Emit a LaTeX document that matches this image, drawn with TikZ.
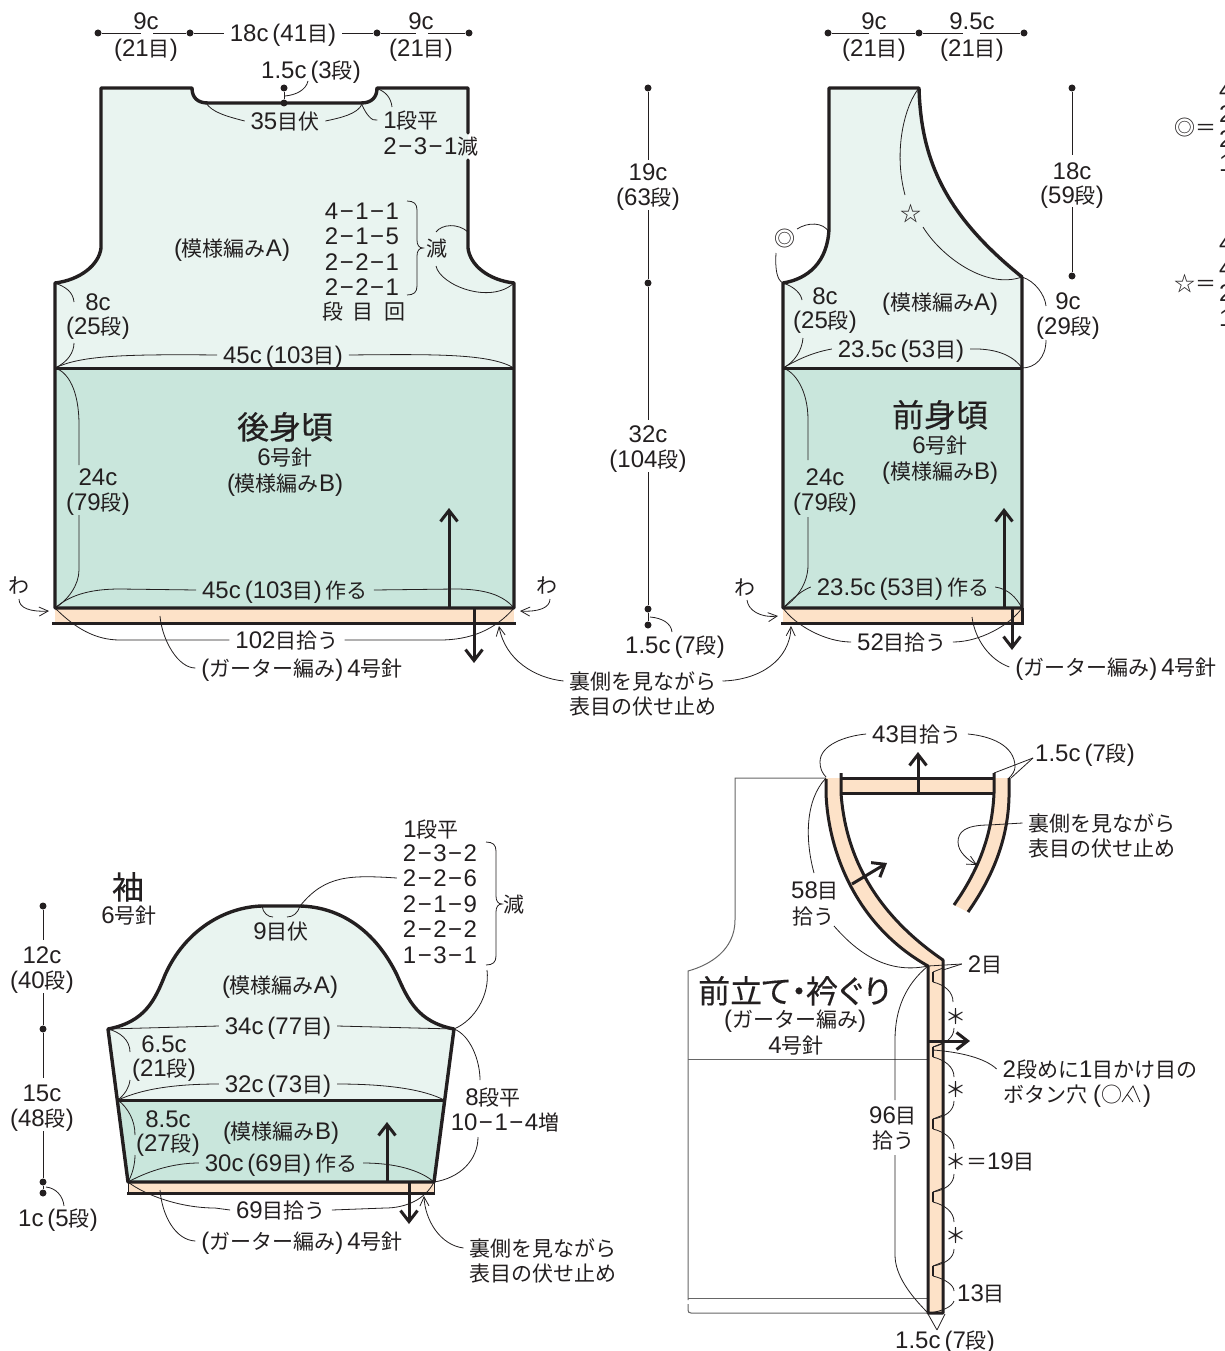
\documentclass[tikz,border=0pt]{standalone}
\usepackage{fontspec}
\setmainfont{Liberation Sans}
\usetikzlibrary{arrows.meta}
\newfontfamily\jpr{Noto Sans CJK JP}[Scale=0.875]
\newfontfamily\jpb{Noto Sans CJK JP}[Scale=0.875,FakeBold=0.4]
\let\cjkcur\jpr
\XeTeXinterchartokenstate=1
\newXeTeXintercharclass\cjkclass
\newcount\cc
\newcommand{\setcjkrange}[2]{\cc=#1 \loop \XeTeXcharclass\cc=\cjkclass \ifnum\cc<#2 \advance\cc 1 \repeat}
\setcjkrange{"3000}{"30FF}
\setcjkrange{"4E00}{"9FFF}
\setcjkrange{"FF00}{"FFEF}
\setcjkrange{"25A0}{"26FF}
\XeTeXinterchartoks 0 \cjkclass={\begingroup\cjkcur}
\XeTeXinterchartoks \cjkclass 0 ={\endgroup}
\XeTeXinterchartoks 4095 \cjkclass={\begingroup\cjkcur}
\XeTeXinterchartoks \cjkclass 4095 ={\endgroup}
\newcommand\mn{\kern1.5pt−\kern1.5pt}
\newcommand\labfont{\fontsize{24}{26}\selectfont\setlength\spaceskip{4pt}}
\newcommand\titlefont{\fontsize{36.5}{38}\selectfont\let\cjkcur\jpb}
\newcommand\asterfont{\fontsize{24}{26}\selectfont}
\definecolor{ink}{HTML}{231F20}
\definecolor{knita}{HTML}{E9F4F0}
\definecolor{knitb}{HTML}{C9E6DC}
\definecolor{peach}{HTML}{FDE2C8}
\definecolor{ghost}{HTML}{666666}
\tikzset{
  lab/.style={inner xsep=6pt,inner ysep=1pt,outer sep=0pt,text=ink,font=\labfont,text height=20pt,text depth=3pt,anchor=center},
  lableft/.style={lab,anchor=west},
  title/.style={lab,font=\titlefont,text height=28pt,text depth=4pt},
  aster/.style={lab,font=\asterfont,text height=17pt,text depth=1pt,inner xsep=0pt},
  thick line/.style={draw=ink,line width=3.4pt,line cap=round,line join=round},
  mid line/.style={draw=ink,line width=3pt,line cap=butt,line join=round},
  lead/.style={draw=ink,line width=0.8pt},
  leadarrow/.style={lead,-{Straight Barb[length=9pt,width=9pt,line width=0.8pt]}},
  dimline/.style={draw=ink,line width=0.9pt},
  gridarrow/.style={draw=ink,line width=3pt,-{Straight Barb[length=11pt,width=17pt,line width=3pt]}},
  ghostline/.style={draw=ghost,line width=1pt},
  dimdot/.style={circle,fill=ink,inner sep=0pt,minimum size=7pt},
}
\newcommand{\mybrace}[4]{% x, top, mid, bottom
  \draw[lead] (#1,#2) .. controls ({#1+7},#2) and ({#1+10},{#2+3}) .. ({#1+10},{#2+9}) -- ({#1+10},{#3-8}) .. controls ({#1+10},{#3-3}) and ({#1+12},#3) .. ({#1+16},#3) .. controls ({#1+12},#3) and ({#1+10},{#3+3}) .. ({#1+10},{#3+8}) -- ({#1+10},{#4-9}) .. controls ({#1+10},{#4-3}) and ({#1+7},#4) .. (#1,#4);}
\newcommand{\buttonhole}[1]{%
  \draw[ink,line width=2pt] (933,{#1-5}) -- (933,{#1+5});
  \draw[lead] (943,{#1-9}) -- (933,{#1-5});}
\begin{document}
\begin{tikzpicture}[x=1pt,y=-1pt]
\useasboundingbox (0,0) rectangle (1224,1351);
\clip (0,0) rectangle (1224,1351);

% ---------- corners
\coordinate (bAL) at (55,283); \coordinate (bAR) at (514,283);
\coordinate (bML) at (55,368); \coordinate (bMR) at (514,368);
\coordinate (bBL) at (55,608); \coordinate (bBR) at (514,608);
\coordinate (fAL) at (783,283); \coordinate (fAR) at (1022,277);
\coordinate (fML) at (783,368); \coordinate (fMR) at (1022,368);
\coordinate (fBL) at (783,608); \coordinate (fBR) at (1022,608);
\coordinate (fNT) at (919,88);
\coordinate (sAL) at (108,1029); \coordinate (sAR) at (454,1029);
\coordinate (sML) at (118,1100); \coordinate (sMR) at (444,1100);
\coordinate (sBL) at (128,1182); \coordinate (sBR) at (434,1182);
\coordinate (sTL) at (262,906); \coordinate (sTR) at (300,906);
\coordinate (cNeck) at (928,966);

% ---------- back body
\fill[knita] (101,88) -- (192,88) .. controls (192,98) and (198,103) .. (208,103) -- (361,103) .. controls (372,103) and (377,97) .. (377,88) -- (468,88) -- (468,248) .. controls (470,265) and (488,280) .. (bAR) -- (bMR) -- (bML) -- (bAL) .. controls (80,280) and (99,265) .. (101,248) -- cycle;
\fill[knitb] (bML) rectangle (bBR);
\fill[peach] (bBL) rectangle (514,623);
\draw[thick line] (468,133) -- (468,88) -- (377,88) .. controls (377,97) and (372,103) .. (361,103) -- (208,103) .. controls (198,103) and (192,98) .. (192,88) -- (101,88) -- (101,248) .. controls (99,265) and (80,280) .. (bAL) -- (bBL) -- (bBR) -- (bAR) .. controls (488,280) and (470,265) .. (468,248) -- (468,160);
\draw[mid line] (bML) -- (bMR);
\draw[mid line] (52,623) -- (516,623);

% ---------- front body
\fill[knita] (829,88) -- (fNT) .. controls (921,160) and (945,215) .. (fAR) -- (fMR) -- (fML) -- (fAL) .. controls (808,279) and (828,262) .. (829,228) -- cycle;
\fill[knitb] (fML) rectangle (fBR);
\fill[peach] (fBL) rectangle (1022,623);
\draw[thick line] (fAR) .. controls (945,215) and (921,160) .. (fNT) -- (829,88) -- (829,228) .. controls (828,262) and (808,279) .. (fAL) -- (fBL) -- (fBR) -- (fAR);
\draw[mid line] (fML) -- (fMR);
\draw[mid line] (781,623) -- (1023.7,623);
\draw[mid line] (1022,608) -- (1022,623);

% ---------- sleeve
\fill[knita] (sAL) .. controls (145,1022) and (155,1000) .. (165,975) .. controls (185,930) and (225,907) .. (sTL) -- (sTR) .. controls (340,907) and (375,930) .. (397,975) .. controls (408,1000) and (418,1022) .. (sAR) -- (sMR) -- (sML) -- cycle;
\fill[knitb] (sML) -- (sMR) -- (sBR) -- (sBL) -- cycle;
\fill[peach] (sBL) rectangle (434,1193);
\draw[thick line] (sBL) -- (sAL) .. controls (145,1022) and (155,1000) .. (165,975) .. controls (185,930) and (225,907) .. (sTL) -- (sTR) .. controls (340,907) and (375,930) .. (397,975) .. controls (408,1000) and (418,1022) .. (sAR) -- (sBR) -- cycle;
\draw[mid line] (sML) -- (sMR);
\draw[mid line] (127,1193) -- (435,1193);
\draw[lead] (128,1182) -- (128,1193) (434,1182) -- (434,1193);

% ---------- front band (ghost garment first)
\draw[ghostline] (826,778) -- (735,778) -- (735,920) .. controls (735,950) and (710,965) .. (688,971) -- (688,1300);
\draw[ghostline] (688,1304) -- (688,1310) .. controls (688,1312) and (689,1313) .. (691,1313) -- (928,1313);
\draw[ghostline] (688,1059) -- (928,1059);
\draw[ghostline] (688,1298) -- (928,1298);
\fill[peach] (826,778) -- (826,793) .. controls (828,850) and (855,925) .. (cNeck) -- (928,1313) -- (943,1313) -- (943,960) .. controls (870,910) and (845,850) .. (841,793) -- (841,778) -- cycle;
\fill[peach] (841,778) rectangle (994,793);
\fill[peach] (994,778) -- (994,793) .. controls (992,840) and (975,875) .. (954,905) -- (968,912) .. controls (992,878) and (1008,840) .. (1009,797) -- (1009,778) -- cycle;
\draw[mid line] (826,779) -- (826,793) .. controls (828,850) and (855,925) .. (cNeck) -- (928,1313) -- (943,1313) -- (943,960) .. controls (870,910) and (845,850) .. (841,793) -- (841,773);
\draw[mid line] (841,778) -- (994,778) (841,793) -- (994,793);
\draw[mid line] (994,773) -- (994,793) .. controls (992,840) and (975,875) .. (954,905);
\draw[mid line] (1009,778) -- (1009,797) .. controls (1008,840) and (992,878) .. (968,912);
\foreach \y in {977,1052,1124,1197,1271}{\buttonhole{\y}}

% ---------- labels: back
\node[lab] (bw1) at (146,21) {9c};
\node[lab] (bw1s) at (146,48) {(21目)};
\node[lab] (bw2) at (283,33) {18c (41目)};
\node[lab] (bw3) at (421,21) {9c};
\node[lab] (bw3s) at (421,48) {(21目)};
\node[lab] (bnd) at (311,70) {1.5c (3段)};
\node[lab] (bn35) at (285,121) {35目伏};
\node[lab] (bn1) at (411,120) {1段平};
\node[lab] (bn2) at (431,146) {2\mn3\mn1減};
\node[lab] (bpa) at (232,248) {(模様編みA)};
\node[lab] (ba1) at (362,211) {4\mn1\mn1};
\node[lab] (ba2) at (362,236) {2\mn1\mn5};
\node[lab] (ba3) at (362,262) {2\mn2\mn1};
\node[lab] (ba4) at (362,287) {2\mn2\mn1};
\node[lab] (bh1) at (333,311) {段};
\node[lab] (bh2) at (363,311) {目};
\node[lab] (bh3) at (395,311) {回};
\node[lab] (bgen) at (437,248) {減};
\node[lab] (b8) at (98,302) {8c};
\node[lab] (b8s) at (98,326) {(25段)};
\node[lab] (b45) at (283,355) {45c (103目)};
\node[title] (btitle) at (285,427) {後身頃};
\node[lab] (bneedle) at (285,457) {6号針};
\node[lab] (bpb) at (285,483) {(模様編みB)};
\node[lab] (b24) at (98,477) {24c};
\node[lab] (b24s) at (98,502) {(79段)};
\node[lab] (b45m) at (285,590) {45c (103目) 作る};
\node[lab] (bw) at (19,585) {わ};
\node[lab] (bw9) at (547,585) {わ};
\node[lab] (b102) at (287,640) {102目拾う};
\node[lab] (bgar) at (302,668) {(ガーター編み) 4号針};
\node[lab] (ura1) at (643,681) {裏側を見ながら};
\node[lab] (ura2) at (643,706) {表目の伏せ止め};

% back dims
\node[dimdot] (d1) at (98,33) {}; \node[dimdot] (d2) at (190,33) {};
\node[dimdot] (d3) at (377,33) {}; \node[dimdot] (d4) at (469,33) {};
\draw[dimline] (d1) -- (141,33) (153,33) -- (d2) -- (bw2.west);
\draw[dimline] (bw2.east) -- (d3) -- (416,33) (428,33) -- (d4);
\node[dimdot] (n1) at (284,88) {}; \node[dimdot] (n2) at (284,103) {};
\draw[dimline] (n1) -- (n2);
\draw[lead] (285,96) .. controls (296,95) and (306,90) .. (308,81);
\draw[lead] (206,103) .. controls (212,112) and (225,116) .. (bn35.west);
\draw[lead] (bn35.east) .. controls (340,118) and (358,114) .. (362,104);
\draw[lead] (362,105) .. controls (366,114) and (372,122) .. (bn1.west);
\draw[lead] (378,89) .. controls (386,92) and (391,98) .. (392,107);
\mybrace{407}{201}{248}{295}
\draw[lead] (436,232) .. controls (442,224) and (458,223) .. (468,232);
\draw[lead] (436,266) .. controls (440,285) and (490,305) .. (bAR);
\draw[lead] (bAL) .. controls (66,287) and (73,292) .. (74,302);
\draw[lead] (74,343) .. controls (74,352) and (68,362) .. (bML);
\draw[lead] (bML) .. controls (80,356) and (120,354) .. (b45.west);
\draw[lead] (b45.east) .. controls (440,354) and (490,354) .. (bMR);
\draw[lead] (bML) .. controls (68,372) and (79,390) .. (79,425) -- (79,465);
\draw[lead] (79,515) -- (79,570) .. controls (79,585) and (68,600) .. (bBL);
\draw[lead] (bBL) .. controls (70,595) and (90,589) .. (120,589) -- (b45m.west);
\draw[lead] (b45m.east) -- (455,589) .. controls (485,589) and (503,595) .. (bBR);
\draw[leadarrow] (19,599) .. controls (19,608) and (30,612) .. (49,611);
\draw[leadarrow] (550,599) .. controls (550,608) and (538,612) .. (520,611);
\draw[lead] (bBL) .. controls (75,628) and (95,640) .. (120,640) -- (b102.west);
\draw[lead] (b102.east) -- (440,640) .. controls (470,640) and (495,630) .. (bBR);
\draw[lead] (160,616) .. controls (162,640) and (178,668) .. (bgar.west);
\draw[leadarrow] (ura1.west) .. controls (535,678) and (505,660) .. (499,626);
\draw[leadarrow] (ura1.east) .. controls (760,680) and (790,660) .. (791,626);
\draw[gridarrow] (449,607) -- (449,508);
\draw[gridarrow] (474,608) -- (474,663);

% centre dim
\node[lab] (c19) at (648,172) {19c};
\node[lab] (c19s) at (648,197) {(63段)};
\node[lab] (c32) at (648,434) {32c};
\node[lab] (c32s) at (648,459) {(104段)};
\node[lab] (c15) at (675,645) {1.5c (7段)};
\node[dimdot] (e1) at (648,88) {}; \node[dimdot] (e2) at (648,283) {};
\node[dimdot] (e3) at (648,609) {}; \node[dimdot] (e4) at (648,625) {};
\draw[dimline] (e1) -- (648,160) (648,210) -- (e2) -- (648,420) (648,472) -- (e3) -- (e4);
\draw[lead] (650,617) .. controls (662,618) and (671,623) .. (672,632);

% ---------- labels: front
\node[lab] (fw1) at (874,21) {9c};
\node[lab] (fw1s) at (874,48) {(21目)};
\node[lab] (fw2) at (972,21) {9.5c};
\node[lab] (fw2s) at (972,48) {(21目)};
\node[lab] (f18) at (1072,171) {18c};
\node[lab] (f18s) at (1072,195) {(59段)};
\node[lab] (fstar) at (911,213) {☆};
\node[lab] (fcirc) at (785,238) {◎};
\node[lab] (f9) at (1068,301) {9c};
\node[lab] (f9s) at (1068,326) {(29段)};
\node[lab] (f8) at (825,296) {8c};
\node[lab] (f8s) at (825,320) {(25段)};
\node[lab] (fpa) at (940,302) {(模様編みA)};
\node[lab] (f235) at (901,349) {23.5c (53目)};
\node[title] (ftitle) at (940,415) {前身頃};
\node[lab] (fneedle) at (940,445) {6号針};
\node[lab] (fpb) at (940,471) {(模様編みB)};
\node[lab] (f24) at (825,477) {24c};
\node[lab] (f24s) at (825,502) {(79段)};
\node[lab] (f235m) at (903,587) {23.5c (53目) 作る};
\node[lab] (fw) at (745,587) {わ};
\node[lab] (f52) at (902,642) {52目拾う};
\node[lab] (fgar) at (1116,667) {(ガーター編み) 4号針};

\node[dimdot] (g1) at (828,33) {}; \node[dimdot] (g2) at (919,33) {}; \node[dimdot] (g3) at (1024,33) {};
\draw[dimline] (g1) -- (869,33) (880,33) -- (g2) -- (963,33) (980,33) -- (g3);
\node[dimdot] (h1) at (1072,88) {}; \node[dimdot] (h2) at (1072,276) {};
\draw[dimline] (h1) -- (1072,155) (1072,207) -- (h2);
\draw[lead] (fNT) .. controls (905,105) and (893,150) .. (905,195);
\draw[lead] (923,227) .. controls (940,255) and (985,290) .. (fAR);
\draw[lead] (797,229) .. controls (808,222) and (823,222) .. (829,232);
\draw[lead] (776,253) .. controls (775,270) and (777,280) .. (fAL);
\draw[lead] (fAR) .. controls (1035,281) and (1045,295) .. (1046,306);
\draw[lead] (1046,340) .. controls (1046,358) and (1035,368) .. (fMR);
\draw[lead] (fAL) .. controls (795,287) and (801,294) .. (802,300);
\draw[lead] (803,338) .. controls (802,350) and (795,362) .. (fML);
\draw[lead] (fML) .. controls (800,358) and (815,352) .. (f235.west);
\draw[lead] (f235.east) .. controls (1000,348) and (1015,358) .. (fMR);
\draw[lead] (fML) .. controls (795,372) and (808,390) .. (808,420) -- (808,460);
\draw[lead] (808,517) -- (808,565) .. controls (808,585) and (795,600) .. (fBL);
\draw[lead] (fBL) .. controls (795,596) and (803,590) .. (f235m.west);
\draw[lead] (f235m.east) .. controls (1008,589) and (1016,597) .. (fBR);
\draw[leadarrow] (747,600) .. controls (748,610) and (760,618) .. (778,616);
\draw[lead] (fBL) .. controls (795,625) and (825,642) .. (f52.west);
\draw[lead] (f52.east) .. controls (980,642) and (1010,625) .. (fBR);
\draw[lead] (972,617) .. controls (975,640) and (990,660) .. (fgar.west);
\draw[gridarrow] (1004,607) -- (1004,508);
\draw[gridarrow] (1012,608) -- (1012,650);

% right key (cut by the page edge)
\node[lab] (k1) at (1195,127) {◎＝};
\node[lab] (k2) at (1195,283) {☆＝};
\foreach \n/\t/\y in {a/4/90,b/2/114,c/2/139,d/1/163,e/4/243,f/4/268,g/2/293,h/1/318}{
  \node[lableft] (key\n) at (1213,\y) {\t};}

% ---------- labels: sleeve
\node[title] (stitle) at (128,887) {袖};
\node[lab] (sneedle) at (129,915) {6号針};
\node[lab] (s12) at (42,955) {12c};
\node[lab] (s12s) at (42,980) {(40段)};
\node[lab] (s15) at (42,1093) {15c};
\node[lab] (s15s) at (42,1118) {(48段)};
\node[lab] (s1) at (58,1218) {1c (5段)};
\node[lab] (s1hei) at (431,829) {1段平};
\node[lab] (sl1) at (440,853) {2\mn3\mn2};
\node[lab] (sl2) at (440,878) {2\mn2\mn6};
\node[lab] (sl3) at (440,904) {2\mn1\mn9};
\node[lab] (sl4) at (440,929) {2\mn2\mn2};
\node[lab] (sl5) at (440,955) {1\mn3\mn1};
\node[lab] (sgen) at (514,904) {減};
\node[lab] (s9) at (281,931) {9目伏};
\node[lab] (spa) at (280,985) {(模様編みA)};
\node[lab] (s34) at (278,1026) {34c (77目)};
\node[lab] (s65) at (164,1044) {6.5c};
\node[lab] (s65s) at (164,1068) {(21段)};
\node[lab] (s32) at (278,1084) {32c (73目)};
\node[lab] (s85) at (168,1119) {8.5c};
\node[lab] (s85s) at (168,1143) {(27段)};
\node[lab] (spb) at (281,1131) {(模様編みB)};
\node[lab] (s30) at (281,1163) {30c (69目) 作る};
\node[lab] (s69) at (281,1210) {69目拾う};
\node[lab] (sgar) at (302,1241) {(ガーター編み) 4号針};
\node[lab] (sura1) at (543,1248) {裏側を見ながら};
\node[lab] (sura2) at (543,1273) {表目の伏せ止め};
\node[lab] (s8) at (493,1097) {8段平};
\node[lab] (s10) at (505,1122) {10\mn1\mn4増};

\node[dimdot] (j1) at (43,906) {}; \node[dimdot] (j2) at (43,1029) {};
\node[dimdot] (j3) at (43,1182) {}; \node[dimdot] (j4) at (43,1193) {};
\draw[dimline] (j1) -- (43,940) (43,993) -- (j2) -- (43,1078) (43,1131) -- (j3) -- (j4);
\draw[lead] (46,1187) .. controls (56,1188) and (63,1196) .. (64,1206);
\mybrace{486}{842}{904}{965}
\draw[lead] (sl2.west) .. controls (350,875) and (325,875) .. (sTR);
\draw[lead] (sTL) .. controls (263,913) and (268,917) .. (273,917);
\draw[lead] (287,917) .. controls (293,917) and (298,913) .. (sTR);
\draw[lead] (sAL) -- (s34.west);
\draw[lead] (s34.east) -- (sAR);
\draw[lead] (487,970) .. controls (490,995) and (475,1020) .. (sAR);
\draw[lead] (sAR) .. controls (470,1035) and (480,1060) .. (480,1080);
\draw[lead] (478,1137) .. controls (478,1160) and (460,1178) .. (sBR);
\draw[lead] (sAL) .. controls (120,1032) and (130,1040) .. (130,1052);
\draw[lead] (130,1080) .. controls (129,1088) and (125,1094) .. (sML);
\draw[lead] (sML) .. controls (140,1090) and (170,1084) .. (s32.west);
\draw[lead] (s32.east) .. controls (390,1084) and (425,1090) .. (sMR);
\draw[lead] (sML) .. controls (128,1108) and (135,1120) .. (135,1135);
\draw[lead] (135,1155) .. controls (135,1165) and (132,1175) .. (sBL);
\draw[lead] (sBL) .. controls (150,1170) and (175,1163) .. (s30.west);
\draw[lead] (s30.east) .. controls (395,1163) and (420,1170) .. (sBR);
\draw[lead] (sBL) .. controls (145,1195) and (180,1208) .. (215,1208) -- (s69.west);
\draw[lead] (s69.east) -- (385,1208) .. controls (405,1208) and (425,1200) .. (sBR);
\draw[lead] (160,1190) .. controls (162,1215) and (175,1240) .. (sgar.west);
\draw[leadarrow] (sura1.west) .. controls (440,1245) and (425,1220) .. (424,1196);
\draw[gridarrow] (387,1181) -- (387,1122);
\draw[gridarrow] (409,1183) -- (409,1224);

% ---------- labels: collar and band
\node[lab] (c43) at (917,734) {43目拾う};
\node[lab] (c15b) at (1085,753) {1.5c (7段)};
\node[lab] (cura1) at (1102,823) {裏側を見ながら};
\node[lab] (cura2) at (1102,848) {表目の伏せ止め};
\node[lab] (c58) at (815,890) {58目};
\node[lab] (c58s) at (813,916) {拾う};
\node[lab] (c2) at (985,964) {2目};
\node[title] (ctitle) at (796,991) {前立\kern-2ptて\kern-9pt・\kern-9pt衿\kern-3ptぐ\kern-5ptり};
\node[lab] (cgar) at (795,1019) {(ガーター編み)};
\node[lab] (cneedle) at (796,1045) {4号針};
\node[lab] (c96) at (893,1115) {96目};
\node[lab] (c96s) at (893,1140) {拾う};
\node[lab] (ch1) at (1100,1069) {2段めに1目かけ目の};
\node[lableft] (ch2) at (997,1094) {ボタン穴};
\node[lableft] (ch2b) at (1087,1094) {(○};
\node[lab] (ch2c) at (1147,1094) {)};
\node[aster] (st1) at (956,1016) {＊};
\node[aster] (st2) at (956,1089) {＊};
\node[aster] (st3) at (956,1161) {＊};
\node[lableft] (st3b) at (960,1161) {＝19目};
\node[aster] (st4) at (956,1235) {＊};
\node[lab] (c13) at (981,1293) {13目};
\node[lab] (c15c) at (945,1340) {1.5c (7段)};

% k2tog mark
\draw[lead] (1122,1102) -- (1133,1086) -- (1140,1102) (1127,1094) -- (1133,1102);

\draw[lead] (c43.west) .. controls (845,736) and (820,745) .. (820,762) .. controls (820,768) and (822,773) .. (826,777);
\draw[lead] (c43.east) .. controls (990,736) and (1015,745) .. (1015,767) .. controls (1015,771) and (1012,775) .. (1009,778);
\draw[lead] (1033,758) -- (994,773);
\draw[lead] (1033,758) -- (1011,778);
\draw[lead] (826,778) .. controls (805,800) and (805,840) .. (814,873);
\draw[lead] (834,926) .. controls (855,950) and (885,975) .. (cNeck);
\draw[lead] (c2.west) -- (cNeck);
\draw[lead] (c2.west) -- (943,970);
\draw[lead] (cura1.west) -- (989,825) .. controls (965,825) and (958,832) .. (958,842);
\draw[leadarrow] (958,842) .. controls (958,852) and (968,860) .. (977,865);
\draw[lead] (cNeck) .. controls (905,985) and (895,1010) .. (895,1040) -- (895,1100);
\draw[lead] (895,1155) -- (895,1255) .. controls (895,1275) and (910,1295) .. (928,1313);

% buttonhole spacing leaders
\draw[lead] (933,982) .. controls (945,985) and (953,992) .. (953,1002);
\draw[lead] (954,1028) .. controls (954,1038) and (945,1044) .. (933,1047);
\draw[lead] (933,1057) .. controls (945,1060) and (954,1067) .. (954,1077);
\draw[lead] (954,1101) .. controls (954,1111) and (945,1117) .. (933,1119);
\draw[lead] (933,1129) .. controls (945,1132) and (954,1139) .. (954,1149);
\draw[lead] (954,1174) .. controls (954,1184) and (945,1190) .. (933,1192);
\draw[lead] (933,1202) .. controls (945,1205) and (954,1212) .. (954,1222);
\draw[lead] (954,1249) .. controls (954,1258) and (945,1264) .. (933,1266);
\draw[lead] (933,1276) .. controls (945,1279) and (954,1285) .. (954,1291);
\draw[lead] (954,1301) .. controls (952,1307) and (942,1311) .. (930,1313);
\draw[lead] (933,1050) .. controls (960,1052) and (985,1058) .. (ch1.west);
\draw[lead] (937,1330) -- (928,1314) (937,1330) -- (945,1314);

\draw[gridarrow] (928,1041) -- (970,1041);
\draw[gridarrow] (918,793) -- (918,752);
\draw[gridarrow] (852,884) -- (887,863);
\end{tikzpicture}
\end{document}
